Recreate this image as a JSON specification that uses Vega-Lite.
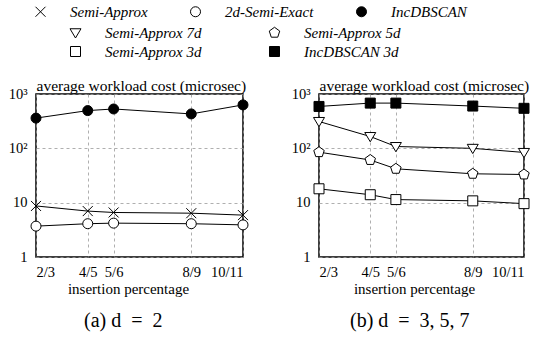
{
  "$schema": "https://vega.github.io/schema/vega-lite/v6.json",
  "padding": {"left": 7, "top": 3, "right": 0, "bottom": 0},
  "bounds": "flush",
  "spacing": 76,
  "config": {
    "font": "Liberation Serif",
    "view": {"stroke": "black", "strokeWidth": 1.5},
    "axis": {
      "labelFont": "Liberation Serif", "labelFontSize": 14.5, "labelColor": "black",
      "titleFont": "Liberation Serif", "titleFontSize": 15, "titleFontWeight": "normal", "titleColor": "black",
      "domain": false, "ticks": false,
      "gridColor": "#9a9a9a", "gridDash": [3, 3], "gridWidth": 0.8
    },
    "legend": {
      "title": null, "padding": 0, "direction": "horizontal",
      "labelFont": "Liberation Serif", "labelFontSize": 15, "labelFontStyle": "italic", "labelColor": "black",
      "labelLimit": 300, "symbolStrokeColor": "black", "symbolFillColor": "white", "symbolStrokeWidth": 1, "symbolSize": 100
    },
    "title": {"font": "Liberation Serif", "fontWeight": "normal", "fontSize": 20, "color": "black"}
  },
  "datasets": {
    "costs": [
      {"panel": "a", "series": "IncDBSCAN", "k": 2, "cost": 360},
      {"panel": "a", "series": "IncDBSCAN", "k": 4, "cost": 495},
      {"panel": "a", "series": "IncDBSCAN", "k": 5, "cost": 530},
      {"panel": "a", "series": "IncDBSCAN", "k": 8, "cost": 430},
      {"panel": "a", "series": "IncDBSCAN", "k": 10, "cost": 630},
      {"panel": "a", "series": "Semi-Approx", "k": 2, "cost": 8.7},
      {"panel": "a", "series": "Semi-Approx", "k": 4, "cost": 7.0},
      {"panel": "a", "series": "Semi-Approx", "k": 5, "cost": 6.6},
      {"panel": "a", "series": "Semi-Approx", "k": 8, "cost": 6.4},
      {"panel": "a", "series": "Semi-Approx", "k": 10, "cost": 5.9},
      {"panel": "a", "series": "2d-Semi-Exact", "k": 2, "cost": 3.7},
      {"panel": "a", "series": "2d-Semi-Exact", "k": 4, "cost": 4.1},
      {"panel": "a", "series": "2d-Semi-Exact", "k": 5, "cost": 4.2},
      {"panel": "a", "series": "2d-Semi-Exact", "k": 8, "cost": 4.1},
      {"panel": "a", "series": "2d-Semi-Exact", "k": 10, "cost": 3.9},
      {"panel": "b", "series": "IncDBSCAN 3d", "k": 2, "cost": 590},
      {"panel": "b", "series": "IncDBSCAN 3d", "k": 4, "cost": 680},
      {"panel": "b", "series": "IncDBSCAN 3d", "k": 5, "cost": 680},
      {"panel": "b", "series": "IncDBSCAN 3d", "k": 8, "cost": 600},
      {"panel": "b", "series": "IncDBSCAN 3d", "k": 10, "cost": 545},
      {"panel": "b", "series": "Semi-Approx 7d", "k": 2, "cost": 312},
      {"panel": "b", "series": "Semi-Approx 7d", "k": 4, "cost": 165},
      {"panel": "b", "series": "Semi-Approx 7d", "k": 5, "cost": 108},
      {"panel": "b", "series": "Semi-Approx 7d", "k": 8, "cost": 100},
      {"panel": "b", "series": "Semi-Approx 7d", "k": 10, "cost": 84},
      {"panel": "b", "series": "Semi-Approx 5d", "k": 2, "cost": 85},
      {"panel": "b", "series": "Semi-Approx 5d", "k": 4, "cost": 61},
      {"panel": "b", "series": "Semi-Approx 5d", "k": 5, "cost": 42},
      {"panel": "b", "series": "Semi-Approx 5d", "k": 8, "cost": 34},
      {"panel": "b", "series": "Semi-Approx 5d", "k": 10, "cost": 33},
      {"panel": "b", "series": "Semi-Approx 3d", "k": 2, "cost": 18},
      {"panel": "b", "series": "Semi-Approx 3d", "k": 4, "cost": 14},
      {"panel": "b", "series": "Semi-Approx 3d", "k": 5, "cost": 11.4},
      {"panel": "b", "series": "Semi-Approx 3d", "k": 8, "cost": 10.8},
      {"panel": "b", "series": "Semi-Approx 3d", "k": 10, "cost": 9.6}
    ]
  },
  "resolve": {
    "scale": {"x": "independent", "y": "independent", "shape": "independent", "fill": "independent"},
    "legend": {"shape": "independent", "fill": "independent"}
  },
  "hconcat": [
    {
      "width": 207, "height": 163,
      "data": {"name": "costs"},
      "transform": [{"filter": "datum.panel === 'a'"}],
      "title": {"text": "(a) d\u2002=\u20022", "orient": "bottom", "anchor": "start", "frame": "group", "dx": 48, "offset": 14},
      "encoding": {
        "x": {"field": "k", "type": "quantitative",
          "scale": {"domain": [2, 10], "nice": false, "zero": false},
          "axis": {"values": [2, 4, 5, 8, 10], "labelExpr": "datum.value + '/' + (datum.value + 1)", "labelPadding": 8, "title": "insertion percentage", "titlePadding": 3, "titleX": 92, "grid": true}},
        "y": {"field": "cost", "type": "quantitative",
          "scale": {"type": "log", "domain": [1, 1000], "nice": false},
          "axis": {"values": [1, 10, 100, 1000], "labelExpr": "datum.value == 1000 ? '10³' : datum.value == 100 ? '10²' : datum.value + ''", "labelPadding": 9,
            "title": "average workload cost (microsec)", "titleFontSize": 15.5, "titleAngle": 0, "titleAlign": "left", "titleBaseline": "bottom", "titleX": 0, "titleY": -1}}
      },
      "layer": [
        {"mark": {"type": "line", "color": "black", "strokeWidth": 1}, "encoding": {"detail": {"field": "series"}}},
        {"mark": {"type": "point", "filled": false, "stroke": "black", "strokeWidth": 1, "opacity": 1, "size": 100},
          "encoding": {
            "shape": {"field": "series", "type": "nominal",
              "scale": {"domain": ["Semi-Approx", "2d-Semi-Exact", "IncDBSCAN"], "range": ["M-1,-1L1,1M-1,1L1,-1", "circle", "circle"]},
              "legend": {"orient": "none", "legendX": -3, "legendY": -90, "columns": 3, "columnPadding": 40, "direction": "horizontal",
                "labelOffset": 22,
                "encode": {"symbols": {
                  "size": {"value": 100},
                  "stroke": {"value": "black"},
                  "strokeWidth": {"value": 1},
                  "opacity": {"value": 1},
                  "fill": {"value": {"expr": "datum.value === 'IncDBSCAN' ? 'black' : 'white'"}}
                }}}},
            "fill": {"field": "series", "type": "nominal", "legend": null,
              "scale": {"domain": ["Semi-Approx", "2d-Semi-Exact", "IncDBSCAN"], "range": ["white", "white", "black"]}}
          }}
      ]
    },
    {
      "width": 205, "height": 163,
      "data": {"name": "costs"},
      "transform": [{"filter": "datum.panel === 'b'"}],
      "title": {"text": "(b) d\u2002=\u20023, 5, 7", "orient": "bottom", "anchor": "start", "frame": "group", "dx": 31, "offset": 14},
      "encoding": {
        "x": {"field": "k", "type": "quantitative",
          "scale": {"domain": [2, 10], "nice": false, "zero": false},
          "axis": {"values": [2, 4, 5, 8, 10], "labelExpr": "datum.value + '/' + (datum.value + 1)", "labelPadding": 8, "title": "insertion percentage", "titlePadding": 3, "titleX": 95, "grid": true}},
        "y": {"field": "cost", "type": "quantitative",
          "scale": {"type": "log", "domain": [1, 1000], "nice": false},
          "axis": {"values": [1, 10, 100, 1000], "labelExpr": "datum.value == 1000 ? '10³' : datum.value == 100 ? '10²' : datum.value + ''", "labelPadding": 9,
            "title": "average workload cost (microsec)", "titleFontSize": 15.5, "titleAngle": 0, "titleAlign": "left", "titleBaseline": "bottom", "titleX": 0, "titleY": -1}}
      },
      "layer": [
        {"mark": {"type": "line", "color": "black", "strokeWidth": 1}, "encoding": {"detail": {"field": "series"}}},
        {"mark": {"type": "point", "filled": false, "stroke": "black", "strokeWidth": 1, "opacity": 1, "size": 100},
          "encoding": {
            "shape": {"field": "series", "type": "nominal",
              "scale": {"domain": ["Semi-Approx 7d", "Semi-Approx 5d", "Semi-Approx 3d", "IncDBSCAN 3d"],
                "range": ["M-1.1,-0.8L1.1,-0.8L0,1.05Z", "M0,-1.1L1.046,-0.34L0.647,0.89L-0.647,0.89L-1.046,-0.34Z", "square", "square"]},
              "legend": {"orient": "none", "legendX": -251, "legendY": -69, "columns": 2, "columnPadding": 65, "rowPadding": 3, "direction": "horizontal",
                "labelOffset": 22,
                "encode": {"symbols": {
                  "size": {"value": 100},
                  "stroke": {"value": "black"},
                  "strokeWidth": {"value": 1},
                  "opacity": {"value": 1},
                  "fill": {"value": {"expr": "datum.value === 'IncDBSCAN 3d' ? 'black' : 'white'"}}
                }}}},
            "fill": {"field": "series", "type": "nominal", "legend": null,
              "scale": {"domain": ["Semi-Approx 7d", "Semi-Approx 5d", "Semi-Approx 3d", "IncDBSCAN 3d"], "range": ["white", "white", "white", "black"]}}
          }}
      ]
    }
  ]
}
